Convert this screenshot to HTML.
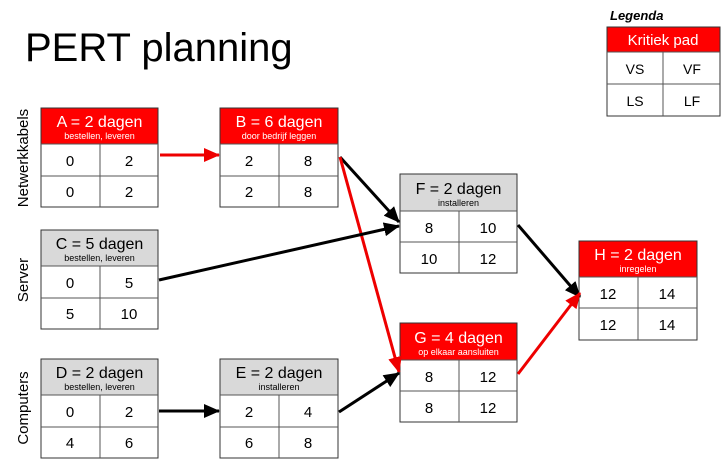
<!DOCTYPE html>
<html><head><meta charset="utf-8"><style>
html,body{margin:0;padding:0;background:#fff;}
svg{display:block;font-family:"Liberation Sans",Arial,sans-serif;}
</style></head><body>
<svg width="727" height="463" viewBox="0 0 727 463" xmlns="http://www.w3.org/2000/svg">
<defs>
<marker id="abL" markerWidth="16" markerHeight="14" refX="15" refY="7" orient="auto" markerUnits="userSpaceOnUse"><path d="M0,0 L16,7 L0,14 z" fill="#000"/></marker>
<marker id="arL" markerWidth="16" markerHeight="14" refX="15" refY="7" orient="auto" markerUnits="userSpaceOnUse"><path d="M0,0 L16,7 L0,14 z" fill="#e00"/></marker>
</defs>
<text x="25" y="61" font-size="40">PERT planning</text>

<!-- Legend -->
<text x="610" y="20" font-size="13" font-weight="bold" font-style="italic">Legenda</text>
<rect x="607" y="27" width="113" height="25" fill="#f00"/>
<text x="663" y="45" font-size="15" fill="#fff" text-anchor="middle">Kritiek pad</text>
<rect x="607" y="27" width="113" height="89" fill="none" stroke="#333" stroke-width="1"/>
<line x1="607" y1="52" x2="720" y2="52" stroke="#555"/>
<line x1="607" y1="84" x2="720" y2="84" stroke="#555"/>
<line x1="663" y1="52" x2="663" y2="116" stroke="#555"/>
<text x="635" y="74" font-size="14" text-anchor="middle">VS</text>
<text x="692" y="74" font-size="14" text-anchor="middle">VF</text>
<text x="635" y="106" font-size="14" text-anchor="middle">LS</text>
<text x="692" y="106" font-size="14" text-anchor="middle">LF</text>

<!-- side labels -->
<text transform="translate(28,158) rotate(-90)" font-size="15" text-anchor="middle">Netwerkkabels</text>
<text transform="translate(28,280) rotate(-90)" font-size="15" text-anchor="middle">Server</text>
<text transform="translate(28,408) rotate(-90)" font-size="15" text-anchor="middle">Computers</text>

<g font-size="15" text-anchor="middle">
<g transform="translate(41,108)">
<rect width="117" height="36" fill="#f00"/><text x="58.5" y="19" font-size="16" fill="#fff">A = 2 dagen</text><text x="58.5" y="31" font-size="9" fill="#fff">bestellen, leveren</text>
<rect width="117" height="99" fill="none" stroke="#333"/><line x1="0" y1="36" x2="117" y2="36" stroke="#555"/><line x1="0" y1="68" x2="117" y2="68" stroke="#555"/><line x1="59" y1="36" x2="59" y2="99" stroke="#555"/>
<text x="29" y="58">0</text><text x="88" y="58">2</text><text x="29" y="89">0</text><text x="88" y="89">2</text></g>
<g transform="translate(220,108)">
<rect width="118" height="36" fill="#f00"/><text x="59" y="19" font-size="16" fill="#fff">B = 6 dagen</text><text x="59" y="31" font-size="9" fill="#fff">door bedrijf leggen</text>
<rect width="118" height="99" fill="none" stroke="#333"/><line x1="0" y1="36" x2="118" y2="36" stroke="#555"/><line x1="0" y1="68" x2="118" y2="68" stroke="#555"/><line x1="59" y1="36" x2="59" y2="99" stroke="#555"/>
<text x="29" y="58">2</text><text x="88" y="58">8</text><text x="29" y="89">2</text><text x="88" y="89">8</text></g>
<g transform="translate(41,230)">
<rect width="117" height="36" fill="#d9d9d9"/><text x="58.5" y="19" font-size="16">C = 5 dagen</text><text x="58.5" y="31" font-size="9">bestellen, leveren</text>
<rect width="117" height="99" fill="none" stroke="#333"/><line x1="0" y1="36" x2="117" y2="36" stroke="#555"/><line x1="0" y1="68" x2="117" y2="68" stroke="#555"/><line x1="59" y1="36" x2="59" y2="99" stroke="#555"/>
<text x="29" y="58">0</text><text x="88" y="58">5</text><text x="29" y="89">5</text><text x="88" y="89">10</text></g>
<g transform="translate(41,359)">
<rect width="117" height="36" fill="#d9d9d9"/><text x="58.5" y="19" font-size="16">D = 2 dagen</text><text x="58.5" y="31" font-size="9">bestellen, leveren</text>
<rect width="117" height="99" fill="none" stroke="#333"/><line x1="0" y1="36" x2="117" y2="36" stroke="#555"/><line x1="0" y1="68" x2="117" y2="68" stroke="#555"/><line x1="59" y1="36" x2="59" y2="99" stroke="#555"/>
<text x="29" y="58">0</text><text x="88" y="58">2</text><text x="29" y="89">4</text><text x="88" y="89">6</text></g>
<g transform="translate(220,359)">
<rect width="118" height="36" fill="#d9d9d9"/><text x="59" y="19" font-size="16">E = 2 dagen</text><text x="59" y="31" font-size="9">installeren</text>
<rect width="118" height="99" fill="none" stroke="#333"/><line x1="0" y1="36" x2="118" y2="36" stroke="#555"/><line x1="0" y1="68" x2="118" y2="68" stroke="#555"/><line x1="59" y1="36" x2="59" y2="99" stroke="#555"/>
<text x="29" y="58">2</text><text x="88" y="58">4</text><text x="29" y="89">6</text><text x="88" y="89">8</text></g>
<g transform="translate(400,174)">
<rect width="117" height="37" fill="#d9d9d9"/><text x="58.5" y="20" font-size="16">F = 2 dagen</text><text x="58.5" y="32" font-size="9">installeren</text>
<rect width="117" height="99" fill="none" stroke="#333"/><line x1="0" y1="37" x2="117" y2="37" stroke="#555"/><line x1="0" y1="68" x2="117" y2="68" stroke="#555"/><line x1="59" y1="37" x2="59" y2="99" stroke="#555"/>
<text x="29" y="59">8</text><text x="88" y="59">10</text><text x="29" y="90">10</text><text x="88" y="90">12</text></g>
<g transform="translate(400,323)">
<rect width="117" height="37" fill="#f00"/><text x="58.5" y="20" font-size="16" fill="#fff">G = 4 dagen</text><text x="58.5" y="32" font-size="9" fill="#fff">op elkaar aansluiten</text>
<rect width="117" height="99" fill="none" stroke="#333"/><line x1="0" y1="37" x2="117" y2="37" stroke="#555"/><line x1="0" y1="68" x2="117" y2="68" stroke="#555"/><line x1="59" y1="37" x2="59" y2="99" stroke="#555"/>
<text x="29" y="59">8</text><text x="88" y="59">12</text><text x="29" y="90">8</text><text x="88" y="90">12</text></g>
<g transform="translate(579,241)">
<rect width="118" height="36" fill="#f00"/><text x="59" y="19" font-size="16" fill="#fff">H = 2 dagen</text><text x="59" y="31" font-size="9" fill="#fff">inregelen</text>
<rect width="118" height="99" fill="none" stroke="#333"/><line x1="0" y1="36" x2="118" y2="36" stroke="#555"/><line x1="0" y1="67" x2="118" y2="67" stroke="#555"/><line x1="59" y1="36" x2="59" y2="99" stroke="#555"/>
<text x="29" y="58">12</text><text x="88" y="58">14</text><text x="29" y="89">12</text><text x="88" y="89">14</text></g>
</g>

<g stroke-width="3" fill="none">
<line x1="160" y1="155" x2="219" y2="155" stroke="#e00" marker-end="url(#arL)"/>
<line x1="340" y1="157" x2="399" y2="222" stroke="#000" marker-end="url(#abL)"/>
<line x1="340" y1="157" x2="399" y2="372" stroke="#e00" marker-end="url(#arL)"/>
<line x1="159" y1="280" x2="399" y2="226" stroke="#000" marker-end="url(#abL)"/>
<line x1="159" y1="411" x2="219" y2="411" stroke="#000" marker-end="url(#abL)"/>
<line x1="339" y1="412" x2="399" y2="373" stroke="#000" marker-end="url(#abL)"/>
<line x1="518" y1="225" x2="580" y2="297" stroke="#000" marker-end="url(#abL)"/>
<line x1="518" y1="374" x2="580" y2="293" stroke="#e00" marker-end="url(#arL)"/>
</g>
</svg>
</body></html>
